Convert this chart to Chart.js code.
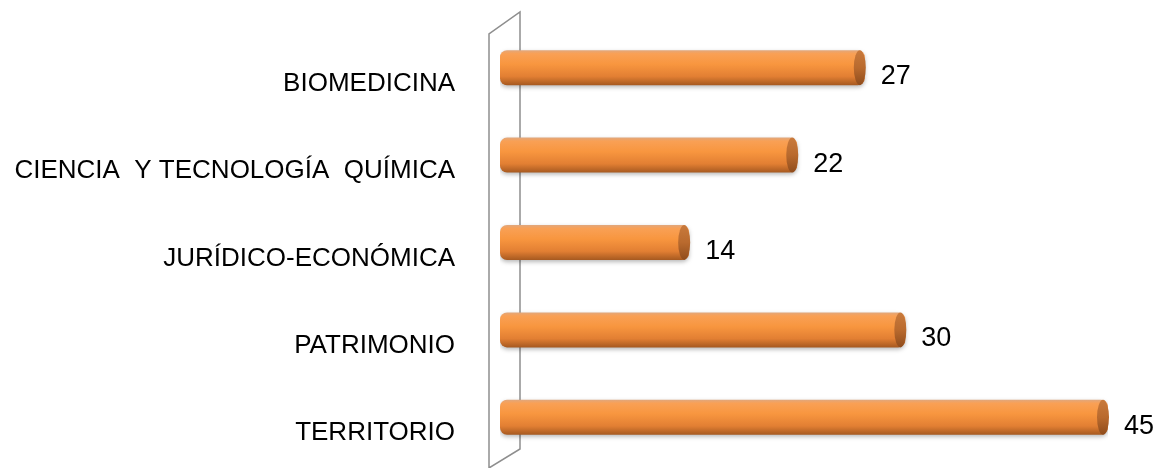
<!DOCTYPE html>
<html>
<head>
<meta charset="utf-8">
<script src="https://cdn.jsdelivr.net/npm/chart.js@4"></script>
<style>
  html, body { margin: 0; padding: 0; background: #fff; }
  #wrap { width: 1157px; height: 468px; position: relative; }
</style>
</head>
<body>
<div id="wrap"><canvas id="grafico"></canvas></div>
<script>
const categorias = [
  "BIOMEDICINA",
  "CIENCIA  Y TECNOLOGÍA  QUÍMICA",
  "JURÍDICO-ECONÓMICA",
  "PATRIMONIO",
  "TERRITORIO",
];
const valores = [27, 22, 14, 30, 45];

const FUENTE = "'Liberation Sans', Arial, sans-serif";
const BAR_PCT = 0.4;

function barGradient(context) {
  const chart = context.chart;
  const area = chart.chartArea;
  if (!area) return "#f79646";
  const yScale = chart.scales.y;
  const y = yScale.getPixelForValue(context.dataIndex);
  const half = (area.height / categorias.length) * BAR_PCT / 2;
  const g = chart.ctx.createLinearGradient(0, y - half, 0, y + half);
  g.addColorStop(0, "#e1a77c");
  g.addColorStop(0.1, "#f9a055");
  g.addColorStop(0.4, "#f8963f");
  g.addColorStop(0.75, "#e27f33");
  g.addColorStop(1, "#a65920");
  return g;
}

// back wall of the 3d plot
const pared = {
  id: "pared",
  beforeDatasetsDraw(chart) {
    const { ctx, chartArea } = chart;
    const l = chartArea.left - 11, r = chartArea.left + 20;
    ctx.save();
    ctx.strokeStyle = "#8e8e8e";
    ctx.lineWidth = 1.5;
    ctx.beginPath();
    ctx.moveTo(l, chartArea.bottom + 12);
    ctx.lineTo(l, chartArea.top + 10);
    ctx.lineTo(r, chartArea.top - 12);
    ctx.lineTo(r, chartArea.bottom - 12);
    ctx.lineTo(l, chartArea.bottom + 7);
    ctx.stroke();
    ctx.restore();
    ctx.save();
    ctx.shadowColor = "rgba(0,0,0,0.28)";
    ctx.shadowBlur = 4;
    ctx.shadowOffsetY = 2;
  },
  afterDatasetsDraw(chart) {
    const { ctx } = chart;
    ctx.restore();
    const meta = chart.getDatasetMeta(0);
    meta.data.forEach((bar, i) => {
      const half = bar.height / 2;
      // end cap
      const g = ctx.createLinearGradient(0, bar.y - half, 0, bar.y + half);
      g.addColorStop(0, "#c97a3c");
      g.addColorStop(0.5, "#b96a2e");
      g.addColorStop(1, "#8f4c1c");
      ctx.save();
      ctx.fillStyle = g;
      ctx.beginPath();
      ctx.ellipse(bar.x - 5, bar.y, 6, half, 0, 0, Math.PI * 2);
      ctx.fill();
      ctx.restore();
      // value
      ctx.save();
      ctx.font = "27px " + FUENTE;
      ctx.fillStyle = "#000";
      ctx.textAlign = "left";
      ctx.textBaseline = "middle";
      ctx.fillText(String(valores[i]), bar.x + 16, bar.y + 9);
      ctx.restore();
    });
  },
};

new Chart(document.getElementById("grafico"), {
  type: "bar",
  data: {
    labels: categorias,
    datasets: [
      {
        data: valores,
        backgroundColor: barGradient,
        borderWidth: 0,
        borderRadius: 7,
        borderSkipped: false,
        barPercentage: BAR_PCT,
        categoryPercentage: 1,
      },
    ],
  },
  options: {
    indexAxis: "y",
    responsive: true,
    maintainAspectRatio: false,
    animation: false,
    layout: { padding: { top: 24, bottom: 7, left: 0, right: 49 } },
    plugins: {
      legend: { display: false },
      tooltip: { enabled: false },
    },
    scales: {
      x: {
        display: false,
        min: 0,
        max: 45,
      },
      y: {
        grid: { display: false, drawTicks: false },
        border: { display: false },
        ticks: {
          color: "#000",
          padding: 45,
          labelOffset: 16,
          font: { family: FUENTE, size: 26 },
        },
        afterFit(scale) {
          scale.width = 500;
          scale.paddingTop = 0;
          scale.paddingBottom = 0;
        },
      },
    },
  },
  plugins: [pared],
});
</script>
</body>
</html>
